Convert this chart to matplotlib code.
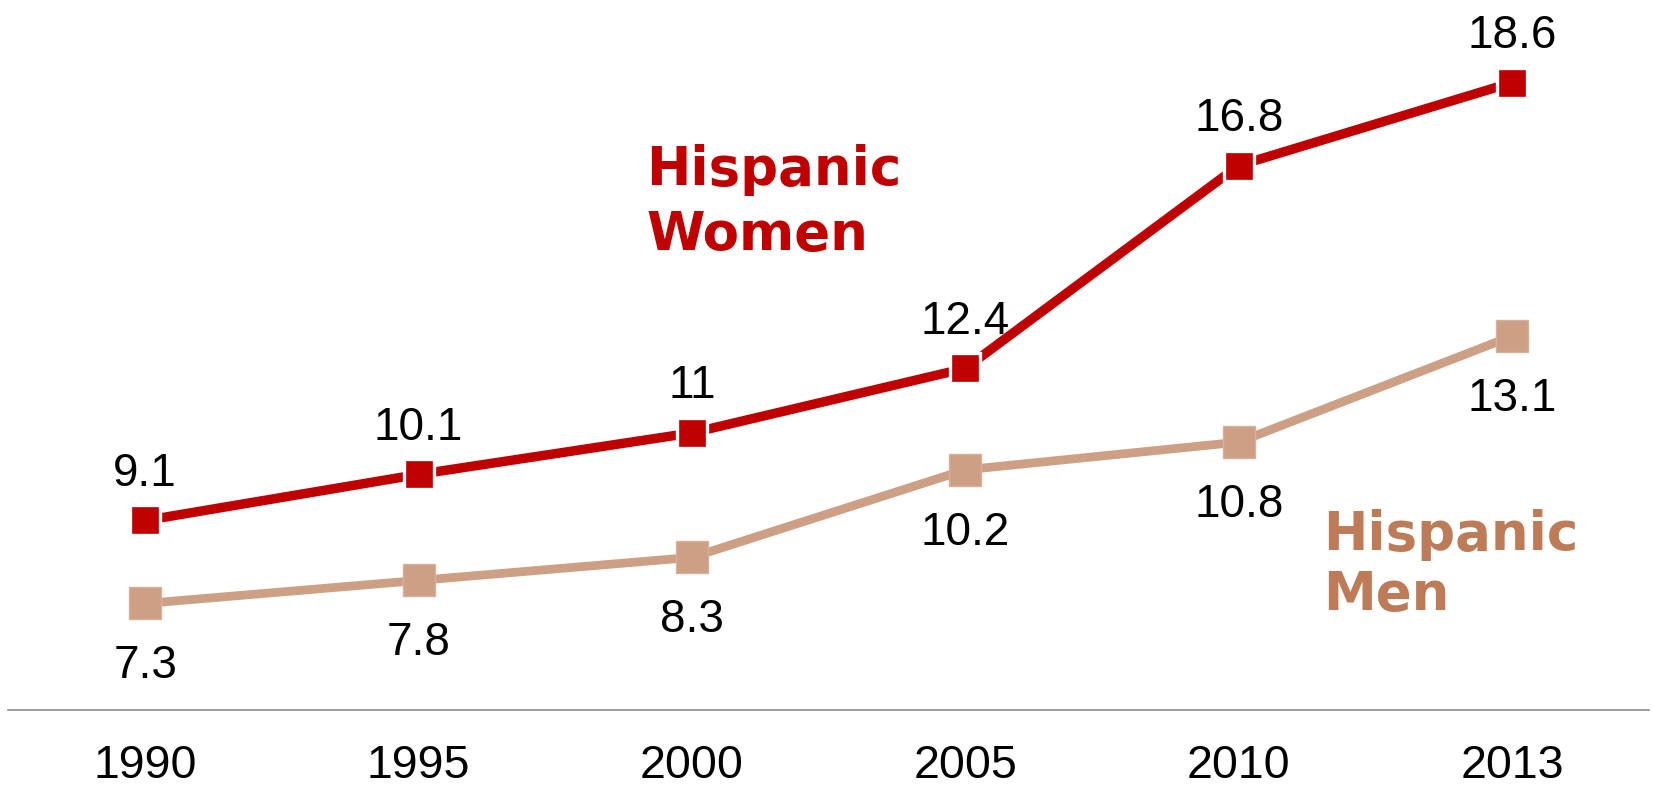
import matplotlib.pyplot as plt

years = ['1990', '1995', '2000', '2005', '2010', '2013']
women = [9.1, 10.1, 11, 12.4, 16.8, 18.6]
men = [7.3, 7.8, 8.3, 10.2, 10.8, 13.1]

women_color = '#C00000'
men_line_color = '#CDA085'
men_text_color = '#BD7B57'

plt.rcParams['font.family'] = ['Liberation Sans', 'DejaVu Sans']

fig = plt.figure(figsize=(16.53, 7.88), dpi=100)
ax = fig.add_axes([8.4 / 1653, 1 - 709.5 / 788, 6 * 273.4 / 1653, 691.5 / 788])

x = list(range(len(years)))
ax.plot(x, men, color=men_line_color, lw=6.3, marker='s', markersize=22.5,
        markerfacecolor=men_line_color, markeredgecolor='#D8B09A', markeredgewidth=1, zorder=2)
ax.plot(x, women, color=women_color, lw=6.8, marker='s', markersize=21,
        markerfacecolor=women_color, markeredgecolor='white', markeredgewidth=2.4, zorder=3)

# value labels
for xi, v in zip(x, women):
    ax.annotate(f'{v:g}', (xi, v), xytext=(0, 25), textcoords='offset points',
                ha='center', va='baseline', fontsize=33, color='black')
for xi, v in zip(x, men):
    ax.annotate(f'{v:g}', (xi, v), xytext=(0, -54), textcoords='offset points',
                ha='center', va='baseline', fontsize=33, color='black')

# series labels
lab = dict(fontsize=38.2, fontweight='bold', family='DejaVu Sans', ha='left', va='baseline')
ax.text(1.832, 16.38, 'Hispanic', color=women_color, **lab)
ax.text(1.832, 14.97, 'Women', color=women_color, **lab)
ax.text(4.307, 8.46, 'Hispanic', color=men_text_color, **lab)
ax.text(4.307, 7.16, 'Men', color=men_text_color, **lab)

ax.set_xlim(-0.5, 5.5)
ax.set_ylim(5, 20)
ax.set_xticks(x)
ax.set_xticklabels(years, fontsize=33.5)
ax.tick_params(axis='x', length=0, pad=25)
ax.set_yticks([])
for s in ['top', 'right', 'left']:
    ax.spines[s].set_visible(False)
ax.spines['bottom'].set_color('#8C8C8C')
ax.spines['bottom'].set_linewidth(1.2)

fig.savefig('out.png', dpi=100)
